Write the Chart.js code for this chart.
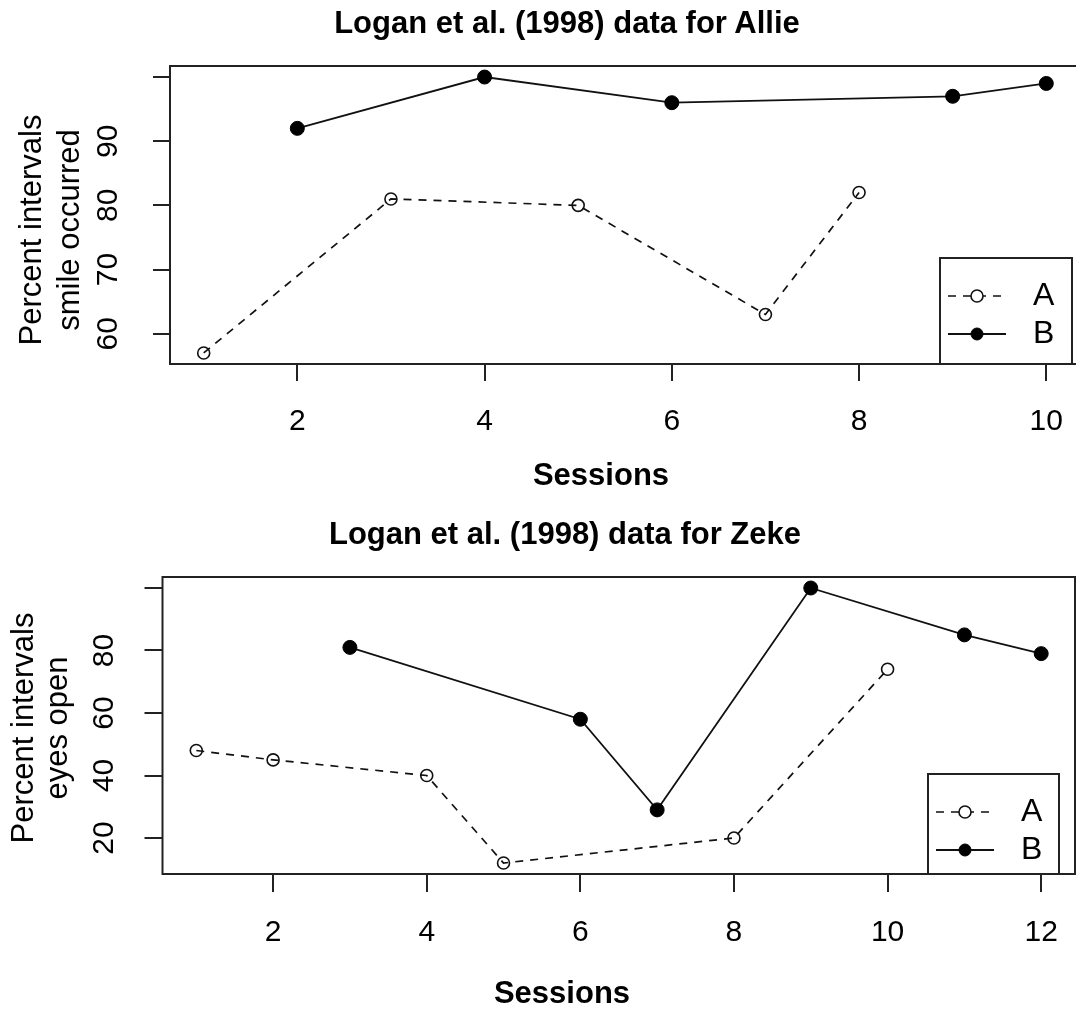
<!DOCTYPE html>
<html>
<head>
<meta charset="utf-8">
<title>Logan et al. (1998)</title>
<script src="https://cdn.jsdelivr.net/npm/chart.js@4.4.1/dist/chart.umd.min.js"></script>
<style>
  html, body { margin: 0; padding: 0; background: #fff; overflow: hidden; }
  body { width: 1076px; height: 1009px; position: relative; font-family: "Liberation Sans", Arial, sans-serif; color: #000; }
  .panel { position: absolute; left: 0; width: 1140px; }
  .panel canvas { position: absolute; left: 0; top: 0; }
  .main, .xlab { position: absolute; width: 1000px; text-align: center; font-weight: bold;
                 font-size: 31px; line-height: 31px; white-space: nowrap; }
  .ylab { position: absolute; width: 320px; text-align: center; font-size: 31px;
          white-space: nowrap; transform: rotate(-90deg); }
</style>
</head>
<body>
<div class="panel" id="allie" style="top:0; height:505px;">
  <canvas id="allieChart" width="1140" height="505"></canvas>
  <div class="main" style="left:67px; top:7px;">Logan et al. (1998) data for Allie</div>
  <div class="xlab" style="left:101px; top:459px;">Sessions</div>
  <div class="ylab" style="left:-110px; top:192px; height:76px; line-height:38px;">Percent intervals<br>smile occurred</div>
</div>
<div class="panel" id="zeke" style="top:505px; height:504px;">
  <canvas id="zekeChart" width="1140" height="504"></canvas>
  <div class="main" style="left:65px; top:13px;">Logan et al. (1998) data for Zeke</div>
  <div class="xlab" style="left:62px; top:472px;">Sessions</div>
  <div class="ylab" style="left:-120px; top:189px; height:68px; line-height:34px;">Percent intervals<br>eyes open</div>
</div>

<script>
// Allie: percent of intervals in which a smile occurred, by session and phase
const allieSessionsA = [1, 3, 5, 7, 8];
const allieValuesA   = [57, 81, 80, 63, 82];
const allieSessionsB = [2, 4, 6, 9, 10];
const allieValuesB   = [92, 100, 96, 97, 99];
const allieXTicks  = [2, 4, 6, 8, 10];
const allieYTicks  = [60, 70, 80, 90, 100];
const allieYLabels = ['60', '70', '80', '90', ''];

// Zeke: percent of intervals with eyes open, by session and phase
const zekeSessionsA = [1, 2, 4, 5, 8, 10];
const zekeValuesA   = [48, 45, 40, 12, 20, 74];
const zekeSessionsB = [3, 6, 7, 9, 11, 12];
const zekeValuesB   = [81, 58, 29, 100, 85, 79];
const zekeXTicks  = [2, 4, 6, 8, 10, 12];
const zekeYTicks  = [20, 40, 60, 80, 100];
const zekeYLabels = ['20', '40', '60', '80', ''];

const phaseNames = ['A', 'B'];

Chart.defaults.font.family = '"Liberation Sans", Arial, sans-serif';
Chart.defaults.color = '#000';

// Axis limits padded by 4% on each side of the data range
function paddedRange(values) {
  const lo = Math.min(...values), hi = Math.max(...values);
  const d = (hi - lo) * 0.04;
  return [lo - d, hi + d];
}

// Box drawn around the plotting region
const framePlugin = {
  id: 'frame',
  afterDatasetsDraw(chart, args, o) {
    const { ctx, chartArea: a } = chart;
    ctx.save();
    ctx.strokeStyle = o.color;
    ctx.lineWidth = o.width;
    ctx.strokeRect(a.left, a.top, a.right - a.left, a.bottom - a.top);
    ctx.restore();
  }
};

// Boxed legend in the bottom-right corner, styled from each dataset
const boxLegendPlugin = {
  id: 'boxLegend',
  afterDraw(chart, args, o) {
    const { ctx, chartArea: a } = chart;
    const left = a.right - o.inset - o.width;
    const top = a.bottom - o.height;
    ctx.save();
    ctx.fillStyle = '#fff';
    ctx.fillRect(left, top, o.width, o.height);
    ctx.strokeStyle = '#222';
    ctx.lineWidth = 2;
    ctx.strokeRect(left, top, o.width, o.height);
    chart.data.datasets.forEach((ds, i) => {
      const y = top + o.rows[i];
      ctx.setLineDash(ds.borderDash || []);
      ctx.lineWidth = ds.borderWidth;
      ctx.strokeStyle = ds.borderColor;
      ctx.beginPath();
      ctx.moveTo(left + o.lineStart, y);
      ctx.lineTo(left + o.lineEnd, y);
      ctx.stroke();
      ctx.setLineDash([]);
      ctx.beginPath();
      ctx.arc(left + o.marker, y, o.markerRadius, 0, Math.PI * 2);
      ctx.fillStyle = ds.legendFill;
      ctx.fill();
      ctx.lineWidth = ds.pointBorderWidth;
      ctx.strokeStyle = ds.pointBorderColor;
      ctx.stroke();
      ctx.fillStyle = '#000';
      ctx.font = o.font;
      ctx.textAlign = 'left';
      ctx.textBaseline = 'middle';
      ctx.fillText(ds.label, left + o.text, y);
    });
    ctx.restore();
  }
};

function phaseDatasets(sessA, valA, sessB, valB) {
  return [
    {
      label: phaseNames[0],
      data: sessA.map((s, i) => ({ x: s, y: valA[i] })),
      borderColor: '#111', borderWidth: 1.7, borderDash: [8, 7],
      pointRadius: 6, pointBorderWidth: 1.6,
      pointBackgroundColor: 'rgba(255,255,255,0)', pointBorderColor: '#111',
      legendFill: '#fff'
    },
    {
      label: phaseNames[1],
      data: sessB.map((s, i) => ({ x: s, y: valB[i] })),
      borderColor: '#111', borderWidth: 1.8,
      pointRadius: 7, pointBorderWidth: 1,
      pointBackgroundColor: '#000', pointBorderColor: '#000',
      legendFill: '#000'
    }
  ];
}

function drawPanel(canvasId, p) {
  const tickMarks = {
    display: true, drawOnChartArea: false, drawTicks: true,
    tickLength: p.tickLength, color: '#222', lineWidth: 2
  };
  const xRange = paddedRange(p.sessionsA.concat(p.sessionsB));
  const yRange = paddedRange(p.valuesA.concat(p.valuesB));
  const canvas = document.getElementById(canvasId);
  return new Chart(canvas, {
    type: 'line',
    data: { datasets: phaseDatasets(p.sessionsA, p.valuesA, p.sessionsB, p.valuesB) },
    options: {
      responsive: false,
      animation: false,
      devicePixelRatio: 1,
      events: [],
      layout: { padding: { top: p.areaTop, left: 0, bottom: 0, right: canvas.width - p.areaRight } },
      scales: {
        x: {
          type: 'linear', position: 'bottom',
          min: xRange[0], max: xRange[1],
          afterBuildTicks: s => { s.ticks = p.xTicks.map(v => ({ value: v })); },
          afterFit: s => { s.height = canvas.height - p.areaBottom; },
          ticks: {
            autoSkip: false, minRotation: 0, maxRotation: 0,
            padding: p.xTickPad, color: '#000', font: { size: 30 },
            callback: (v) => String(v)
          },
          grid: tickMarks,
          border: { display: false }
        },
        y: {
          type: 'linear', position: 'left',
          min: yRange[0], max: yRange[1],
          afterBuildTicks: s => { s.ticks = p.yTicks.map(v => ({ value: v })); },
          afterFit: s => { s.width = p.areaLeft; },
          ticks: {
            autoSkip: false, minRotation: 90, maxRotation: 90, crossAlign: 'center',
            padding: p.yTickPad, color: '#000', font: { size: 30 },
            callback: (v, i) => p.yLabels[i]
          },
          grid: tickMarks,
          border: { display: false }
        }
      },
      plugins: {
        legend: { display: false },
        tooltip: { enabled: false },
        frame: { color: '#222', width: 2 },
        boxLegend: {
          inset: p.legendInset, width: p.legendWidth, height: p.legendHeight,
          rows: [38, 76], lineStart: 8, lineEnd: 66, marker: 37, markerRadius: 6,
          text: 93, font: '32px "Liberation Sans", Arial, sans-serif'
        }
      }
    },
    plugins: [framePlugin, boxLegendPlugin]
  });
}

drawPanel('allieChart', {
  sessionsA: allieSessionsA, valuesA: allieValuesA,
  sessionsB: allieSessionsB, valuesB: allieValuesB,
  xTicks: allieXTicks, yTicks: allieYTicks, yLabels: allieYLabels,
  areaLeft: 170, areaRight: 1080, areaTop: 66, areaBottom: 364,
  tickLength: 17, xTickPad: 23, yTickPad: 28,
  legendInset: 8, legendWidth: 132, legendHeight: 106
});

drawPanel('zekeChart', {
  sessionsA: zekeSessionsA, valuesA: zekeValuesA,
  sessionsB: zekeSessionsB, valuesB: zekeValuesB,
  xTicks: zekeXTicks, yTicks: zekeYTicks, yLabels: zekeYLabels,
  areaLeft: 162.5, areaRight: 1075, areaTop: 72, areaBottom: 369,
  tickLength: 18, xTickPad: 23, yTickPad: 23,
  legendInset: 16, legendWidth: 131, legendHeight: 100
});
</script>
</body>
</html>
